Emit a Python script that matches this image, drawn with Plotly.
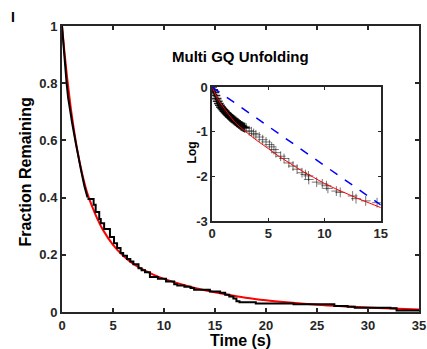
import plotly.graph_objects as go

# ---- main panel: empirical survival, early dense part (many tiny steps) ----
early_t = [0, 0.1, 0.2, 0.3, 0.45, 0.6, 0.8, 1.0, 1.3, 1.6, 1.9, 2.2, 2.5]
early_f = [1.0, 0.95, 0.91, 0.87, 0.80, 0.75, 0.70, 0.66, 0.60, 0.54, 0.49, 0.44, 0.40]

# ---- main panel: empirical survival, stepped part ----
step_t = [2.5, 3.1, 3.3, 3.65, 3.8, 4.13, 4.7, 5.1,
          5.4, 5.74, 6.0, 6.37, 6.7, 7.0, 7.5, 7.8, 8.14, 8.62, 9.4, 10.2, 11.0, 11.3, 12.0, 12.6, 12.95, 14.5, 15.5, 16.0,
          16.4, 16.8, 17.1, 17.4, 19.0, 22.7, 26.7, 28.0, 28.7, 32.2, 32.8, 35.0]
step_f = [0.395, 0.375, 0.35, 0.325, 0.31, 0.29, 0.262, 0.24,
          0.224, 0.206, 0.197, 0.185, 0.177, 0.167, 0.153, 0.146, 0.139, 0.122, 0.116, 0.107, 0.097, 0.093, 0.088, 0.084, 0.078, 0.072, 0.067, 0.060,
          0.054, 0.047, 0.038, 0.034, 0.030, 0.027, 0.021, 0.018, 0.015, 0.013, 0.005, 0.005]

# ---- main panel: fit (red) ----
fit_t = [0, 0.25, 0.5, 0.75, 1, 1.5, 2, 2.5, 3, 3.5, 4, 5, 6, 7, 8, 9, 10, 12, 14, 16, 18, 20, 22, 25, 28, 31, 35]
fit_f = [1.0, 0.905, 0.820, 0.745, 0.678, 0.566, 0.480, 0.413, 0.365, 0.323, 0.288, 0.235, 0.197, 0.168, 0.147,
         0.130, 0.116, 0.094, 0.076, 0.062, 0.050, 0.041, 0.034, 0.025, 0.019, 0.014, 0.009]

# ---- inset: log data (+ markers), dense early band and sparse later points ----
band_t = [0, 0.1, 0.2, 0.3, 0.4, 0.5, 0.6, 0.7, 0.8, 0.9, 1.0, 1.1, 1.2, 1.3, 1.4, 1.5, 1.6, 1.7, 1.8, 1.9,
          2.0, 2.1, 2.2, 2.3, 2.4, 2.5, 2.6, 2.7, 2.8, 2.9]
band_log = [0, -0.06, -0.12, -0.19, -0.26, -0.32, -0.37, -0.41, -0.45, -0.48, -0.51, -0.54, -0.57, -0.59, -0.62, -0.64, -0.67, -0.69, -0.71, -0.73,
            -0.75, -0.77, -0.79, -0.81, -0.83, -0.85, -0.87, -0.88, -0.90, -0.91]
ins_t = [3.05, 3.3, 3.5, 3.7, 3.9, 4.2, 4.5, 4.8, 5.1, 5.3,
         5.5, 5.67, 6.1, 6.4, 6.83, 7.2, 7.56, 8.0, 8.3, 8.57, 8.6, 9.3, 9.8, 10.17, 10.3, 11.05, 11.4, 12.5, 12.8, 13.66, 14.67]
ins_log = [-0.92, -0.98, -1.00, -1.04, -1.07, -1.12, -1.18, -1.23, -1.29, -1.34,
           -1.40, -1.47, -1.55, -1.60, -1.70, -1.77, -1.84, -1.92, -1.96, -1.99, -2.07, -2.13, -2.17, -2.21, -2.27, -2.33, -2.36, -2.44, -2.50, -2.55, -2.59]

# ---- inset: fit (red) and single-exponential reference (blue dashed) ----
ins_fit_t = [0, 0.5, 1, 1.5, 2, 3, 4, 5, 6, 7, 8, 9, 10, 11, 12, 13, 14, 15]
ins_fit_log = [0, -0.26, -0.45, -0.62, -0.78, -1.00, -1.20, -1.38, -1.56, -1.72, -1.88, -2.02, -2.16, -2.28, -2.39, -2.50, -2.60, -2.70]
ins_ref_t = [0, 15]
ins_ref_log = [0, -2.64]

main_xticks = [0, 5, 10, 15, 20, 25, 30, 35]
main_yticks = [0, 0.2, 0.4, 0.6, 0.8, 1]
main_yticktext = ["0", "0.2", "0.4", "0.6", "0.8", "1"]
ins_xticks = [0, 5, 10, 15]
ins_yticks = [0, -1, -2, -3]
ins_yticktext = ["0", "-1", "-2", "-3"]

AX = "#262626"
FONT = "Liberation Sans, Arial, sans-serif"

fig = go.Figure()
fig.add_trace(go.Scatter(x=fit_t, y=fit_f, mode="lines", line=dict(color="#ff0000", width=2, shape="spline"),
                         xaxis="x", yaxis="y", showlegend=False))
fig.add_trace(go.Scatter(x=early_t, y=early_f, mode="lines", line=dict(color="black", width=2),
                         xaxis="x", yaxis="y", showlegend=False))
fig.add_trace(go.Scatter(x=step_t, y=step_f, mode="lines", line=dict(color="black", width=2, shape="hv"),
                         xaxis="x", yaxis="y", showlegend=False))

fig.add_trace(go.Scatter(x=band_t, y=band_log, mode="markers",
                         marker=dict(symbol="cross-thin", size=7, line=dict(color="rgba(0,0,0,0.85)", width=1.6)),
                         xaxis="x2", yaxis="y2", showlegend=False))
fig.add_trace(go.Scatter(x=ins_t, y=ins_log, mode="markers",
                         marker=dict(symbol="cross-thin", size=7, line=dict(color="rgba(0,0,0,0.55)", width=1)),
                         xaxis="x2", yaxis="y2", showlegend=False))
fig.add_trace(go.Scatter(x=ins_fit_t, y=ins_fit_log, mode="lines", line=dict(color="#ff0000", width=1, shape="spline"),
                         xaxis="x2", yaxis="y2", showlegend=False))
fig.add_trace(go.Scatter(x=ins_ref_t, y=ins_ref_log, mode="lines", line=dict(color="#0000ff", width=1.5, dash="dash"),
                         xaxis="x2", yaxis="y2", showlegend=False))

tickfont = dict(family=FONT, size=13, color=AX, weight="bold")

fig.update_layout(
    width=427, height=349,
    margin=dict(l=62, r=1, t=26, b=37),
    paper_bgcolor="white", plot_bgcolor="white",
    font=dict(family=FONT, color=AX),
    xaxis=dict(domain=[0, 1], range=[0, 35], tickvals=main_xticks, ticks="inside", ticklen=4, tickwidth=1.5,
               tickcolor=AX, showline=True, linecolor=AX, linewidth=2, mirror="ticks", showgrid=False,
               zeroline=False, tickfont=tickfont),
    yaxis=dict(domain=[0, 1], range=[0, 1], tickvals=main_yticks, ticktext=main_yticktext, ticks="inside",
               ticklen=4, tickwidth=1.5, tickcolor=AX, showline=True, linecolor=AX, linewidth=2, mirror="ticks",
               showgrid=False, zeroline=False, tickfont=tickfont),
    xaxis2=dict(domain=[0.4203, 0.8929], range=[0, 15], tickvals=ins_xticks, anchor="y2", ticks="inside",
                ticklen=3, tickwidth=1.2, tickcolor=AX, showline=True, linecolor=AX, linewidth=1.5, mirror="ticks",
                showgrid=False, zeroline=False, tickfont=tickfont),
    yaxis2=dict(domain=[0.3182, 0.7867], range=[-3, 0], tickvals=ins_yticks, ticktext=ins_yticktext, anchor="x2",
                ticks="inside", ticklen=3, tickwidth=1.2, tickcolor=AX, showline=True, linecolor=AX, linewidth=1.5,
                mirror="ticks", showgrid=False, zeroline=False, tickfont=tickfont),
    annotations=[
        dict(text="<b>Multi GQ Unfolding</b>", x=0.5, y=0.895, xref="paper", yref="paper", showarrow=False,
             xanchor="center", yanchor="middle", font=dict(family=FONT, size=15, color="black")),
        dict(text="<b>Fraction Remaining</b>", x=-0.1016, y=0.49, xref="paper", yref="paper", showarrow=False,
             textangle=-90, xanchor="center", yanchor="middle", font=dict(family=FONT, size=16, color="black")),
        dict(text="<b>Time (s)</b>", x=0.5, y=-0.1, xref="paper", yref="paper", showarrow=False,
             xanchor="center", yanchor="middle", font=dict(family=FONT, size=16, color="black")),
        dict(text="<b>Log</b>", x=0.365, y=0.559, xref="paper", yref="paper", showarrow=False,
             textangle=-90, xanchor="center", yanchor="middle", font=dict(family=FONT, size=12, color="black")),
        dict(text="<b>I</b>", x=-0.137, y=1.03, xref="paper", yref="paper", showarrow=False,
             xanchor="center", yanchor="middle", font=dict(family=FONT, size=14, color="black")),
    ],
)

fig.write_html("out.html")
